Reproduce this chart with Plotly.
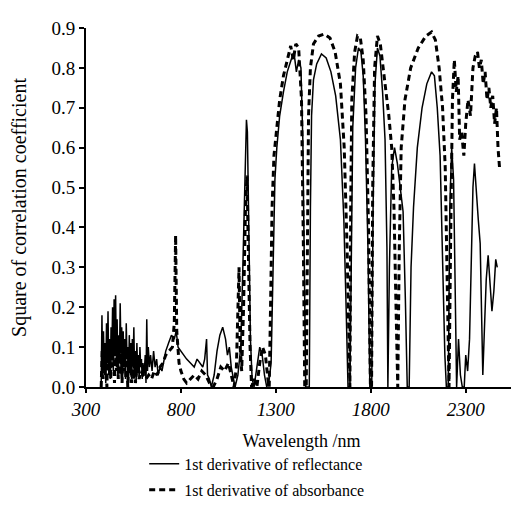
import plotly.graph_objects as go

# 1st derivative of reflectance (solid)
refl_wl = [380,384,388,392,396,400,404,408,412,416,420,424,428,432,436,440,444,448,452,456,
           460,464,468,472,476,480,484,488,492,496,500,504,508,512,516,520,524,528,532,536,
           540,544,548,552,556,560,564,568,572,576,580,584,588,592,596,600,606,612,616,620,
           624,628,634,640,648,656,664,672,680,690,700,710,720,735,
           750,765,775,785,800,815,830,850,870,885,900,915,925,935,940,950,960,975,990,1005,
           1020,1035,1045,1055,1065,1075,1085,1100,1115,1125,1135,1145,1150,1158,1166,1175,1185,1200,1215,1228,
           1240,1252,1265,1275,1285,1295,1305,1320,1340,1360,1380,1395,1408,1420,1432,1442,1450,1457,1468,1476,
           1482,1488,1498,1515,1540,1565,1590,1615,1640,1658,1670,1680,1690,1697,1705,1720,1735,1748,1760,1772,
           1785,1795,1805,1812,1822,1835,1848,1862,1875,1885,1890,1898,1910,1925,1940,1955,1970,1982,1992,2002,
           2012,2025,2045,2070,2095,2120,2135,2150,2165,2178,2190,2198,2208,2216,2226,2236,2245,2252,2262,2272,
           2282,2292,2300,2310,2320,2328,2338,2346,2356,2366,2376,2384,2390,2398,2408,2418,2428,2438,2448,2458,2466]
refl_r2 = [0.00,0.18,0.02,0.14,0.04,0.11,0.01,0.16,0.06,0.19,0.03,0.12,0.02,0.15,0.07,0.20,0.04,0.22,0.08,0.23,
           0.05,0.17,0.02,0.13,0.06,0.21,0.09,0.15,0.03,0.14,0.05,0.12,0.02,0.16,0.07,0.10,0.01,0.13,0.05,0.11,
           0.02,0.12,0.06,0.15,0.03,0.09,0.01,0.11,0.04,0.08,0.02,0.10,0.05,0.07,0.02,0.06,0.03,0.08,0.01,0.17,
           0.04,0.10,0.05,0.08,0.04,0.09,0.05,0.07,0.03,0.05,0.04,0.07,0.09,0.11,
           0.13,0.12,0.14,0.10,0.09,0.08,0.07,0.06,0.05,0.07,0.06,0.05,0.07,0.12,0.03,0.02,0.00,0.03,0.09,0.13,
           0.15,0.12,0.08,0.10,0.05,0.02,0.00,0.03,0.10,0.28,0.52,0.67,0.64,0.38,0.12,0.02,0.00,0.05,0.10,0.08,
           0.03,0.00,0.02,0.06,0.30,0.52,0.60,0.68,0.74,0.79,0.82,0.84,0.79,0.82,0.80,0.62,0.30,0.00,0.00,0.00,
           0.45,0.68,0.77,0.81,0.835,0.825,0.79,0.73,0.62,0.42,0.20,0.00,0.00,0.40,0.65,0.80,0.85,0.84,0.78,0.62,
           0.35,0.00,0.00,0.45,0.76,0.85,0.83,0.74,0.62,0.35,0.00,0.30,0.55,0.60,0.56,0.50,0.44,0.22,0.00,0.00,
           0.30,0.45,0.60,0.70,0.76,0.79,0.78,0.70,0.58,0.32,0.08,0.00,0.00,0.45,0.60,0.52,0.22,0.00,0.12,0.03,
           0.00,0.00,0.08,0.04,0.12,0.30,0.50,0.56,0.48,0.42,0.36,0.12,0.03,0.14,0.27,0.33,0.25,0.19,0.24,0.32,0.30]

# 1st derivative of absorbance (dashed)
abs_wl = [380,385,390,395,400,405,410,415,420,425,430,435,440,445,450,455,460,465,470,475,
          480,485,490,495,500,505,510,515,520,525,530,535,540,545,550,555,560,570,580,590,
          600,615,630,645,660,675,690,705,720,740,755,765,772,778,
          790,800,815,830,850,870,890,910,930,950,970,990,1010,1030,1050,1065,1080,1092,1100,1106,
          1112,1120,1130,1140,1148,1156,1164,1172,1185,1200,1215,1230,1245,1258,1265,1272,1280,1290,1305,1320,
          1340,1360,1378,1392,1405,1420,1435,1445,1452,1460,1466,1472,1482,1498,1525,1555,1585,1612,1640,1660,
          1675,1686,1690,1694,1700,1715,1730,1745,1760,1775,1788,1798,1804,1810,1820,1835,1850,1865,1880,1895,
          1910,1922,1932,1942,1950,1960,1980,2010,2050,2090,2120,2140,2160,2178,2192,2204,2212,2220,2230,2240,
          2250,2260,2268,2278,2290,2300,2312,2325,2338,2350,2362,2372,2382,2392,2402,2412,2422,2432,2442,2452,
          2462,2470,2478]
abs_r2 = [0.00,0.09,0.02,0.11,0.03,0.08,0.00,0.10,0.04,0.12,0.02,0.09,0.05,0.13,0.01,0.10,0.04,0.12,0.02,0.08,
          0.03,0.11,0.01,0.09,0.04,0.10,0.02,0.07,0.00,0.08,0.03,0.09,0.01,0.06,0.02,0.07,0.01,0.05,0.02,0.04,
          0.03,0.02,0.03,0.02,0.04,0.03,0.05,0.06,0.08,0.09,0.10,0.16,0.38,0.14,
          0.06,0.04,0.02,0.01,0.02,0.03,0.02,0.04,0.03,0.01,0.00,0.02,0.05,0.04,0.06,0.03,0.00,0.05,0.18,0.30,
          0.10,0.04,0.20,0.45,0.53,0.30,0.10,0.00,0.02,0.00,0.06,0.10,0.08,0.02,0.00,0.20,0.45,0.58,0.66,0.72,
          0.78,0.82,0.855,0.82,0.86,0.85,0.72,0.35,0.00,0.00,0.40,0.68,0.80,0.86,0.88,0.885,0.875,0.84,0.76,0.60,
          0.35,0.05,0.00,0.45,0.72,0.84,0.88,0.875,0.82,0.68,0.40,0.00,0.00,0.50,0.80,0.88,0.86,0.80,0.74,0.68,
          0.60,0.45,0.22,0.00,0.35,0.60,0.72,0.80,0.85,0.88,0.89,0.87,0.80,0.70,0.55,0.22,0.00,0.35,0.72,0.82,
          0.74,0.78,0.62,0.64,0.58,0.66,0.72,0.68,0.80,0.83,0.84,0.80,0.82,0.76,0.79,0.72,0.75,0.70,0.73,0.66,
          0.70,0.60,0.55]

x_ticks = [300, 800, 1300, 1800, 2300]
y_ticks = [0.0, 0.1, 0.2, 0.3, 0.4, 0.5, 0.6, 0.7, 0.8, 0.9]

serif = "Liberation Serif"

fig = go.Figure()
fig.add_trace(go.Scatter(x=refl_wl, y=refl_r2, mode="lines",
                         name="1st derivative of reflectance", legendgroup="a",
                         line=dict(color="black", width=1.5)))
fig.add_trace(go.Scatter(x=abs_wl, y=abs_r2, mode="lines",
                         name="1st derivative of absorbance", legendgroup="b",
                         line=dict(color="black", width=3, dash="6px,4px")))

fig.update_layout(
    width=519, height=520,
    margin=dict(l=77, r=10, t=11, b=141),
    plot_bgcolor="white", paper_bgcolor="white",
    font=dict(family=serif, color="black"),
    showlegend=True,
    legend=dict(x=0.135, y=-0.167, xanchor="left", yanchor="top",
                font=dict(family=serif, size=16, color="black"),
                traceorder="grouped", tracegroupgap=2,
                bgcolor="rgba(0,0,0,0)"),
)
fig.update_xaxes(range=[300, 2570], tickvals=x_ticks, ticktext=[str(v) for v in x_ticks],
                 showline=True, linecolor="black", linewidth=2, mirror=False,
                 ticks="outside", ticklen=4, tickwidth=1.5, tickcolor="black",
                 showgrid=False, zeroline=False,
                 tickfont=dict(family=serif, size=19, style="italic"),
                 title=dict(text="Wavelength /nm", font=dict(family=serif, size=18), standoff=16))
fig.update_yaxes(range=[0, 0.9], tickvals=y_ticks, tickformat=".1f",
                 showline=True, linecolor="black", linewidth=2, mirror=False,
                 ticks="outside", ticklen=5, tickwidth=1.5, tickcolor="black",
                 showgrid=False, zeroline=False,
                 tickfont=dict(family=serif, size=19),
                 title=dict(text="Square of correlation coefficient", font=dict(family=serif, size=20), standoff=19))

fig.write_html("out.html")
